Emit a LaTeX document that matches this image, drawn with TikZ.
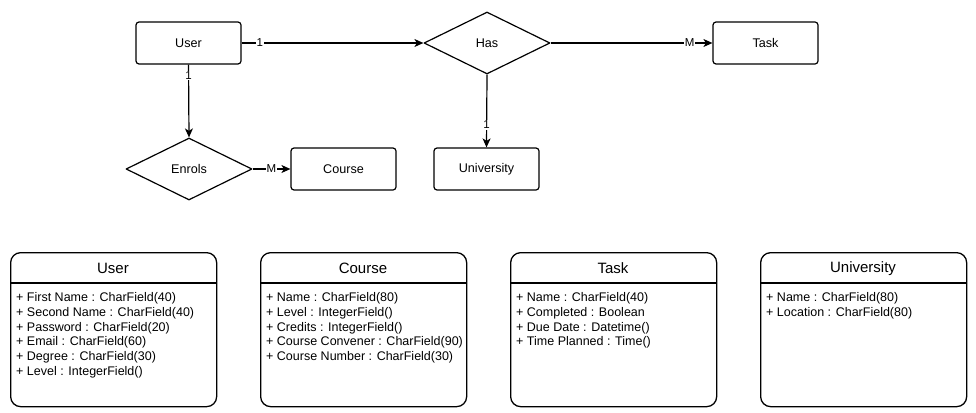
\documentclass[tikz,border=0pt]{standalone}
\usepackage{fontspec}
\setmainfont{Liberation Sans}
\usetikzlibrary{shapes.geometric,arrows.meta}
\begin{document}
\begin{tikzpicture}[x=1pt,y=-1pt,>={Stealth[length=9pt,width=8pt,inset=2.5pt]},line join=round,
	entity/.style={draw,line width=1.2pt,rounded corners=3pt,minimum width=105pt,minimum height=42pt,inner sep=0pt,font=\fontsize{12.6}{14}\selectfont},
	relation/.style={draw,line width=1.2pt,diamond,aspect=2,minimum width=126pt,minimum height=62pt,inner sep=0pt,font=\fontsize{12.6}{14}\selectfont},
	card/.style={fill=white,inner sep=0.8pt,font=\fontsize{11.5}{11.5}\selectfont},
	classbox/.style={draw,line width=1.3pt,rounded corners=10pt,minimum width=206pt,minimum height=154pt,anchor=north west},
	classname/.style={anchor=center,font=\fontsize{15}{16}\selectfont},
	classattr/.style={anchor=north west,align=left,inner sep=0pt,font=\fontsize{12.5}{14.7}\selectfont}]
	\useasboundingbox (0,0) rectangle (976,412);
	% er part
	\node[entity] (user) at (188.5,43) {User};
	\node[relation] (has) at (487,43) {Has};
	\node[entity] (task) at (765.5,43) {Task};
	\node[relation] (enrols) at (189,169) {Enrols};
	\node[entity] (course) at (343.5,169) {Course};
	\node[entity] (uni) at (486.5,169) {University};
	\foreach \a/\b/\p/\t in {user.east/has.west/0.1/1, has.east/task.west/0.86/M,
		user.south/enrols.north/0.15/1, enrols.east/course.west/0.5/M, has.south/uni.north/0.69/1}
		\draw[->,line width=1.2pt] (\a) -- node[card,pos=\p] {\t} (\b);
	% class part
	\foreach \x/\name/\attrs in {
		10/User/{+ First Name : CharField(40)\\+ Second Name : CharField(40)\\+ Password : CharField(20)\\+ Email : CharField(60)\\+ Degree : CharField(30)\\+ Level : IntegerField()},
		260/Course/{+ Name : CharField(80)\\+ Level : IntegerField()\\+ Credits : IntegerField()\\+ Course Convener : CharField(90)\\+ Course Number : CharField(30)},
		510/Task/{+ Name : CharField(40)\\+ Completed : Boolean\\+ Due Date : Datetime()\\+ Time Planned : Time()},
		760/University/{+ Name : CharField(80)\\+ Location : CharField(80)}}{
		\node[classbox] (c\name) at (\x,252) {};
		\node[classname] (t\name) at (\x+103,268.5) {\name};
		\draw[line width=1.3pt] (\x,283) -- (\x+206,283);
		\node[classattr] (a\name) at (\x+6,292.5) {\attrs};
	}
\end{tikzpicture}
\end{document}
